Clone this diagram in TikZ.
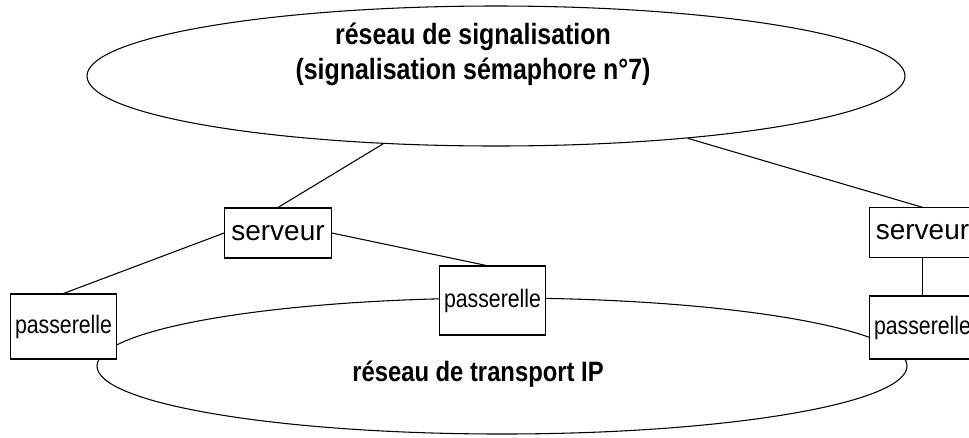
\documentclass[tikz,border=0pt]{standalone}
\usepackage{fontspec}
\setmainfont{Liberation Sans}
\newfontfamily\etroite[FakeStretch=0.85]{Liberation Sans}
\newfontfamily\etroitep[FakeStretch=0.84]{Liberation Sans}
\usetikzlibrary{shapes.geometric}

\tikzset{
    reseau/.style={draw, ellipse, inner sep=0pt, line width=0.8pt},
    titre/.style={anchor=base, font=\etroite\fontsize{22}{22}\selectfont\bfseries},
    boite/.style={draw, fill=white, rectangle, inner sep=0pt,
        line width=0.8pt, minimum width=80pt},
    serv/.style={boite, font=\fontsize{21}{21}\selectfont},
    pass/.style={boite, font=\etroitep\fontsize{19}{19}\selectfont},
    lien/.style={line width=0.8pt}
}

\begin{document}
\begin{tikzpicture}[x=0.75pt, y=-0.75pt]
    \useasboundingbox (0,0) rectangle (969,437);

    % les deux reseaux
    \node[reseau, minimum width=613.5pt, minimum height=105pt] (sig) at (496,76) {};
    \node[reseau, minimum width=607.5pt, minimum height=102pt] (ip) at (502,366) {};

    \node[titre] (sigA) at (473,44) {réseau de signalisation};
    \node[titre] (sigB) at (473,79) {(signalisation sémaphore n°7)};
    \node[titre, font=\etroite\fontsize{21}{21}\selectfont\bfseries] (ipA) at (478,381) {réseau de transport IP};

    % serveurs
    \foreach \n/\x/\y/\h in {
        srvA/278/233/37.5,
        srvB/922.5/232.5/37}
        \node[serv, minimum height=\h pt] (\n) at (\x,\y) {serveur};

    % passerelles
    \foreach \n/\x/\y/\h in {
        psgA/63.5/326.5/48.75,
        psgB/492.5/300.5/51.75,
        psgC/922.5/327.5/47.25}
        \node[pass, minimum height=\h pt] (\n) at (\x,\y) {passerelle};

    % liaisons
    \draw[lien] (sig.211) -- (srvA.north);
    \draw[lien] (sig.342.4) -- (srvB.north);
    \draw[lien] (srvA.west) -- (psgA.north);
    \draw[lien] (srvA.east) -- (psgB.100);
    \draw[lien] (srvB.south) -- (psgC.north);
\end{tikzpicture}
\end{document}
